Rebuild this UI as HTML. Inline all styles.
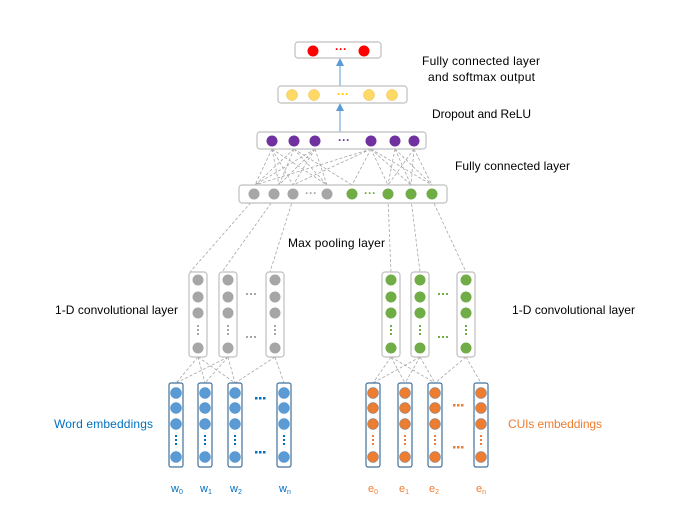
<!DOCTYPE html>
<html><head><meta charset="utf-8"><style>html,body{margin:0;padding:0;background:#fff}svg{display:block}</style></head>
<body>
<svg width="690" height="518" viewBox="0 0 690 518" xmlns="http://www.w3.org/2000/svg" font-family="Liberation Sans, sans-serif" font-size="12">
<defs>
<marker id="ar" markerWidth="8" markerHeight="8" refX="4" refY="4" orient="auto"><path d="M0,0 L8,4 L0,8 z" fill="#5b9bd5"/></marker>
</defs>
<g stroke="#a6a6a6" stroke-width="0.8" stroke-dasharray="3,2" fill="none">
<path d="M272,149L255,185M272,149L279,185M272,149L327,185M272,149L293,185
M294,149L255,185M294,149L279,185M294,149L352,185M294,149L327,185
M315,149L255,185M315,149L293,185M315,149L327,185M315,149L279,185
M371,149L255,185M371,149L293,185M371,149L388,185M371,149L411,185M371,149L432,185M371,149L352,185
M395,149L388,185M395,149L432,185M395,149L411,185
M414,149L388,185M414,149L411,185M414,149L432,185"/>
<path d="M254,199L190,272M274,199L222,272M293,199L270,272M388,199L391,272M411,199L420,272M432,199L466,272"/>
<path d="M198,357L176,383M198,357L205,383M198,357L235,383M228,357L176,383M228,357L205,383M228,357L235,383M275,357L235,383M275,357L284,383
M391,357L373,383M391,357L405,383M391,357L435,383M420,357L373,383M420,357L405,383M420,357L435,383M466,357L435,383M466,357L481,383"/>
</g>
<g stroke="#5b9bd5" stroke-width="1">
<line x1="340" y1="86" x2="340" y2="62" marker-end="url(#ar)"/>
<line x1="340" y1="132" x2="340" y2="107" marker-end="url(#ar)"/>
</g>
<g fill="#fff" stroke="#bfbfbf" stroke-width="1.2">
<rect x="295" y="42" width="86" height="16" rx="3"/>
<rect x="278" y="86" width="129" height="17" rx="3"/>
<rect x="257" y="132" width="169" height="17" rx="3"/>
<rect x="239" y="185" width="208" height="18" rx="3"/>
<rect x="189" y="272" width="18" height="85" rx="3"/>
<rect x="219" y="272" width="18" height="85" rx="3"/>
<rect x="266" y="272" width="18" height="85" rx="3"/>
<rect x="382" y="272" width="18" height="85" rx="3"/>
<rect x="411" y="272" width="18" height="85" rx="3"/>
<rect x="457" y="272" width="18" height="85" rx="3"/>
</g>
<g fill="#fff" stroke="#41719c" stroke-width="1.2">
<rect x="169" y="383" width="14" height="84" rx="2"/>
<rect x="198" y="383" width="14" height="84" rx="2"/>
<rect x="228" y="383" width="14" height="84" rx="2"/>
<rect x="277" y="383" width="14" height="84" rx="2"/>
<rect x="366" y="383" width="14" height="84" rx="2"/>
<rect x="398" y="383" width="14" height="84" rx="2"/>
<rect x="428" y="383" width="14" height="84" rx="2"/>
<rect x="474" y="383" width="14" height="84" rx="2"/>
</g>
<g fill="#ff0000"><circle cx="313" cy="51" r="5.5"/><circle cx="364" cy="51" r="5.5"/></g>
<text x="341" y="53" fill="#ff0000" font-size="12" text-anchor="middle" font-weight="bold">···</text>
<g fill="#ffd966" stroke="#e6b84a" stroke-width="0.5"><circle cx="292" cy="95" r="5.5"/><circle cx="314" cy="95" r="5.5"/><circle cx="369" cy="95" r="5.5"/><circle cx="392" cy="95" r="5.5"/></g>
<text x="343" y="98" fill="#ffc000" text-anchor="middle" font-weight="bold">···</text>
<g fill="#7030a0"><circle cx="272" cy="141" r="5.5"/><circle cx="294" cy="141" r="5.5"/><circle cx="315" cy="141" r="5.5"/><circle cx="371" cy="141" r="5.5"/><circle cx="395" cy="141" r="5.5"/><circle cx="414" cy="141" r="5.5"/></g>
<text x="344" y="144" fill="#7030a0" text-anchor="middle" font-weight="bold">···</text>
<g fill="#a6a6a6"><circle cx="254" cy="194" r="5.5"/><circle cx="274" cy="194" r="5.5"/><circle cx="293" cy="194" r="5.5"/><circle cx="327" cy="194" r="5.5"/></g>
<text x="311" y="197" fill="#a6a6a6" text-anchor="middle" font-weight="bold">···</text>
<g fill="#70ad47"><circle cx="352" cy="194" r="5.5"/><circle cx="388" cy="194" r="5.5"/><circle cx="411" cy="194" r="5.5"/><circle cx="432" cy="194" r="5.5"/></g>
<text x="370" y="197" fill="#70ad47" text-anchor="middle" font-weight="bold">···</text>
<g fill="#a6a6a6">
<circle cx="198" cy="280" r="5.5"/><circle cx="198" cy="297" r="5.5"/><circle cx="198" cy="313" r="5.5"/><circle cx="198" cy="348" r="5.5"/>
<circle cx="228" cy="280" r="5.5"/><circle cx="228" cy="297" r="5.5"/><circle cx="228" cy="313" r="5.5"/><circle cx="228" cy="348" r="5.5"/>
<circle cx="275" cy="280" r="5.5"/><circle cx="275" cy="297" r="5.5"/><circle cx="275" cy="313" r="5.5"/><circle cx="275" cy="348" r="5.5"/>
<rect x="197" y="325" width="2" height="2"/><rect x="197" y="329" width="2" height="2"/><rect x="197" y="333" width="2" height="2"/>
<rect x="227" y="325" width="2" height="2"/><rect x="227" y="329" width="2" height="2"/><rect x="227" y="333" width="2" height="2"/>
<rect x="274" y="325" width="2" height="2"/><rect x="274" y="329" width="2" height="2"/><rect x="274" y="333" width="2" height="2"/>
<rect x="246" y="293" width="2" height="2"/><rect x="250" y="293" width="2" height="2"/><rect x="254" y="293" width="2" height="2"/>
<rect x="246" y="336" width="2" height="2"/><rect x="250" y="336" width="2" height="2"/><rect x="254" y="336" width="2" height="2"/>
</g>
<g fill="#70ad47">
<circle cx="391" cy="280" r="5.5"/><circle cx="391" cy="297" r="5.5"/><circle cx="391" cy="313" r="5.5"/><circle cx="391" cy="348" r="5.5"/>
<circle cx="420" cy="280" r="5.5"/><circle cx="420" cy="297" r="5.5"/><circle cx="420" cy="313" r="5.5"/><circle cx="420" cy="348" r="5.5"/>
<circle cx="466" cy="280" r="5.5"/><circle cx="466" cy="297" r="5.5"/><circle cx="466" cy="313" r="5.5"/><circle cx="466" cy="348" r="5.5"/>
<rect x="390" y="325" width="2" height="2"/><rect x="390" y="329" width="2" height="2"/><rect x="390" y="333" width="2" height="2"/>
<rect x="419" y="325" width="2" height="2"/><rect x="419" y="329" width="2" height="2"/><rect x="419" y="333" width="2" height="2"/>
<rect x="465" y="325" width="2" height="2"/><rect x="465" y="329" width="2" height="2"/><rect x="465" y="333" width="2" height="2"/>
<rect x="438" y="293" width="2" height="2"/><rect x="442" y="293" width="2" height="2"/><rect x="446" y="293" width="2" height="2"/>
<rect x="438" y="336" width="2" height="2"/><rect x="442" y="336" width="2" height="2"/><rect x="446" y="336" width="2" height="2"/>
</g>
<g fill="#5b9bd5" stroke="#4a86c0" stroke-width="0.5">
<circle cx="176" cy="393" r="5.5"/><circle cx="176" cy="408" r="5.5"/><circle cx="176" cy="424" r="5.5"/><circle cx="176" cy="457" r="5.5"/>
<circle cx="205" cy="393" r="5.5"/><circle cx="205" cy="408" r="5.5"/><circle cx="205" cy="424" r="5.5"/><circle cx="205" cy="457" r="5.5"/>
<circle cx="235" cy="393" r="5.5"/><circle cx="235" cy="408" r="5.5"/><circle cx="235" cy="424" r="5.5"/><circle cx="235" cy="457" r="5.5"/>
<circle cx="284" cy="393" r="5.5"/><circle cx="284" cy="408" r="5.5"/><circle cx="284" cy="424" r="5.5"/><circle cx="284" cy="457" r="5.5"/>
</g>
<g fill="#0070c0">
<rect x="175" y="435" width="2" height="2"/><rect x="175" y="439" width="2" height="2"/><rect x="175" y="443" width="2" height="2"/>
<rect x="204" y="435" width="2" height="2"/><rect x="204" y="439" width="2" height="2"/><rect x="204" y="443" width="2" height="2"/>
<rect x="234" y="435" width="2" height="2"/><rect x="234" y="439" width="2" height="2"/><rect x="234" y="443" width="2" height="2"/>
<rect x="283" y="435" width="2" height="2"/><rect x="283" y="439" width="2" height="2"/><rect x="283" y="443" width="2" height="2"/>
<rect x="255" y="397" width="2.5" height="2.5"/><rect x="259" y="397" width="2.5" height="2.5"/><rect x="263" y="397" width="2.5" height="2.5"/>
<rect x="255" y="451" width="2.5" height="2.5"/><rect x="259" y="451" width="2.5" height="2.5"/><rect x="263" y="451" width="2.5" height="2.5"/>
</g>
<g fill="#ed7d31" stroke="#5a7fa8" stroke-width="0.5">
<circle cx="373" cy="393" r="5.5"/><circle cx="373" cy="408" r="5.5"/><circle cx="373" cy="424" r="5.5"/><circle cx="373" cy="457" r="5.5"/>
<circle cx="405" cy="393" r="5.5"/><circle cx="405" cy="408" r="5.5"/><circle cx="405" cy="424" r="5.5"/><circle cx="405" cy="457" r="5.5"/>
<circle cx="435" cy="393" r="5.5"/><circle cx="435" cy="408" r="5.5"/><circle cx="435" cy="424" r="5.5"/><circle cx="435" cy="457" r="5.5"/>
<circle cx="481" cy="393" r="5.5"/><circle cx="481" cy="408" r="5.5"/><circle cx="481" cy="424" r="5.5"/><circle cx="481" cy="457" r="5.5"/>
</g>
<g fill="#ed7d31">
<rect x="372" y="435" width="2" height="2"/><rect x="372" y="439" width="2" height="2"/><rect x="372" y="443" width="2" height="2"/>
<rect x="404" y="435" width="2" height="2"/><rect x="404" y="439" width="2" height="2"/><rect x="404" y="443" width="2" height="2"/>
<rect x="434" y="435" width="2" height="2"/><rect x="434" y="439" width="2" height="2"/><rect x="434" y="443" width="2" height="2"/>
<rect x="480" y="435" width="2" height="2"/><rect x="480" y="439" width="2" height="2"/><rect x="480" y="443" width="2" height="2"/>
<rect x="453" y="404" width="2.5" height="2.5"/><rect x="457" y="404" width="2.5" height="2.5"/><rect x="461" y="404" width="2.5" height="2.5"/>
<rect x="453" y="446" width="2.5" height="2.5"/><rect x="457" y="446" width="2.5" height="2.5"/><rect x="461" y="446" width="2.5" height="2.5"/>
</g>
<g fill="#000">
<text x="422" y="65" textLength="118">Fully connected  layer</text>
<text x="428" y="81" textLength="107">and softmax output</text>
<text x="432" y="118" textLength="99">Dropout and ReLU</text>
<text x="455" y="170" textLength="115">Fully connected layer</text>
<text x="288" y="247" textLength="97">Max pooling layer</text>
<text x="55" y="314" textLength="123">1-D convolutional layer</text>
<text x="512" y="314" textLength="123">1-D convolutional layer</text>
</g>
<text x="54" y="428" fill="#0070c0" textLength="99">Word embeddings</text>
<text x="508" y="428" fill="#ed7d31" textLength="94">CUIs embeddings</text>
<g fill="#0070c0" font-size="11">
<text x="171" y="492">w<tspan font-size="7" dy="2">0</tspan></text>
<text x="200" y="492">w<tspan font-size="7" dy="2">1</tspan></text>
<text x="230" y="492">w<tspan font-size="7" dy="2">2</tspan></text>
<text x="279" y="492">w<tspan font-size="7" dy="2">n</tspan></text>
</g>
<g fill="#ed7d31" font-size="11">
<text x="368" y="492">e<tspan font-size="7" dy="2">0</tspan></text>
<text x="399" y="492">e<tspan font-size="7" dy="2">1</tspan></text>
<text x="429" y="492">e<tspan font-size="7" dy="2">2</tspan></text>
<text x="476" y="492">e<tspan font-size="7" dy="2">n</tspan></text>
</g>
</svg>
</body></html>
